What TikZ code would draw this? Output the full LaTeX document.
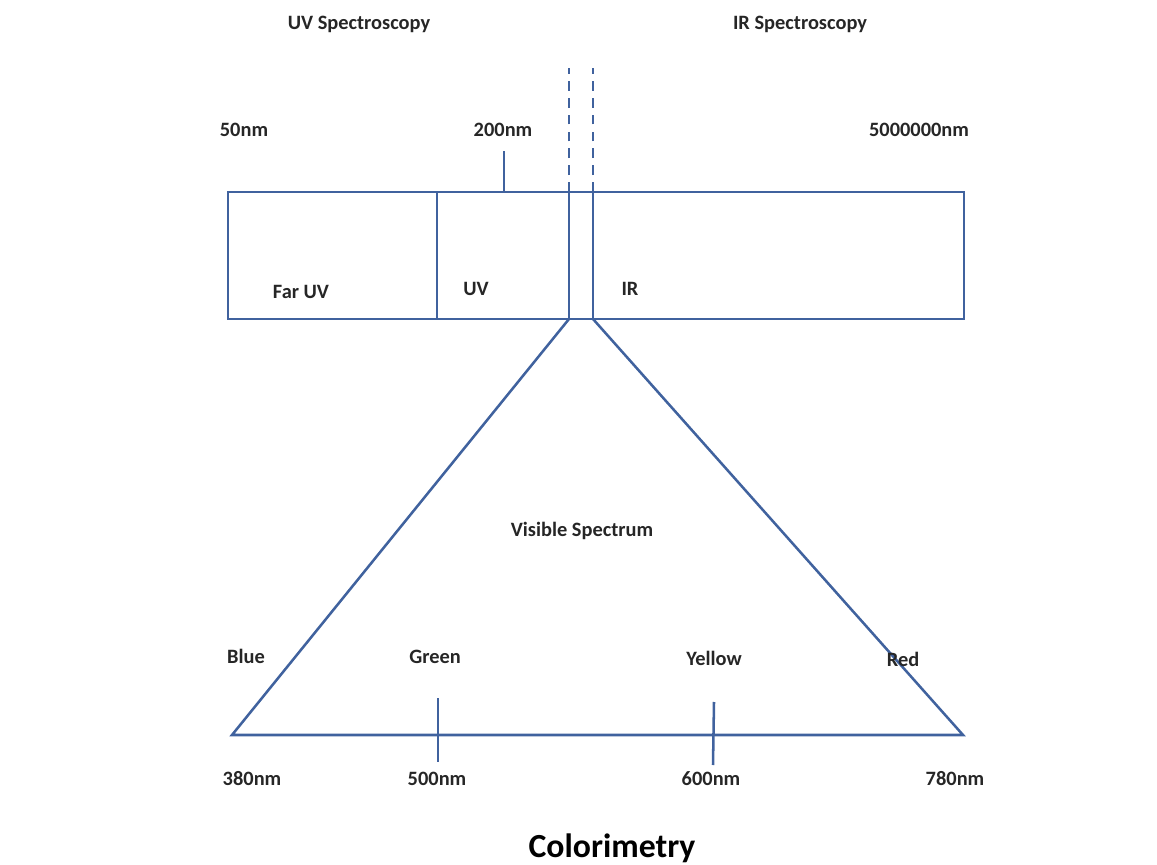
\documentclass[tikz,border=0pt]{standalone}
\usepackage{fontspec}
\setmainfont{Carlito}
\usepackage{tikz}
\usetikzlibrary{positioning, calc}
\definecolor{bandblue}{RGB}{64,98,158}

\begin{document}
\begin{tikzpicture}[x=0.025cm, y=-0.025cm,
    band/.style={draw=bandblue, line width=1.8pt},
    lbl/.style={font=\fontsize{14.5}{16}\selectfont\bfseries, text=black!85, inner sep=0pt}]
  \useasboundingbox (0,0) rectangle (1157,865);
  % Band corners
  \coordinate (tl) at (228,192);
  \coordinate (tr) at (964,192);
  \coordinate (bl) at (228,319);
  \coordinate (br) at (964,319);
  \coordinate (fu-t) at (437,192);
  \coordinate (fu-b) at (437,319);
  \coordinate (va-t) at (569,192);
  \coordinate (va-b) at (569,319);
  \coordinate (vb-t) at (593,192);
  \coordinate (vb-b) at (593,319);
  \coordinate (va-up) at (569,68);
  \coordinate (vb-up) at (593,68);
  \coordinate (uv-tick) at (504,151);
  \coordinate (uv-base) at (504,192);
  % Triangle corners
  \coordinate (blue-end) at (232,735);
  \coordinate (red-end) at (963,735);
  \coordinate (g-top) at (438,698);
  \coordinate (g-bot) at (438,762);
  \coordinate (y-top) at (714,702);
  \coordinate (y-bot) at (713,765);
  % Band
  \draw[band] (tl) rectangle (br);
  \draw[band] (fu-t) -- (fu-b);
  \draw[band] (va-t) -- (va-b);
  \draw[band] (vb-t) -- (vb-b);
  \draw[band, dash pattern=on 7pt off 5pt] (va-t) -- (va-up);
  \draw[band, dash pattern=on 7pt off 5pt] (vb-t) -- (vb-up);
  \draw[band] (uv-base) -- (uv-tick);
  % Visible range
  \draw[band, line join=miter] (va-b) -- (blue-end) -- (red-end) -- (vb-b);
  \draw[band] (g-top) -- (g-bot);
  \draw[band] (y-top) -- (y-bot);
  % Labels
  \node[lbl] (uvspec) at (359,24) {UV Spectroscopy};
  \node[lbl] (irspec) at (800,24) {IR Spectroscopy};
  \node[lbl] (nm50) at (244,130) {50nm};
  \node[lbl] (nm200) at (503,130) {200nm};
  \node[lbl] (nm5m) at (919,130) {5000000nm};
  \node[lbl] (faruv) at (301,292) {Far UV};
  \node[lbl] (uv) at (476,289) {UV};
  \node[lbl] (ir) at (630,289) {IR};
  \node[lbl] (visible) at (582,531) {Visible Spectrum};
  \node[lbl] (blue) at (246,656) {Blue};
  \node[lbl] (green) at (435,657) {Green};
  \node[lbl] (yellow) at (714,658) {Yellow};
  \node[lbl] (red) at (903,659) {Red};
  \node[lbl] (nm380) at (252,779) {380nm};
  \node[lbl] (nm500) at (437,779) {500nm};
  \node[lbl] (nm600) at (711,779) {600nm};
  \node[lbl] (nm780) at (955,779) {780nm};
  \node[lbl, font=\fontsize{24}{28}\selectfont\bfseries, text=black] (title) at (612,848) {Colorimetry};
\end{tikzpicture}
\end{document}
